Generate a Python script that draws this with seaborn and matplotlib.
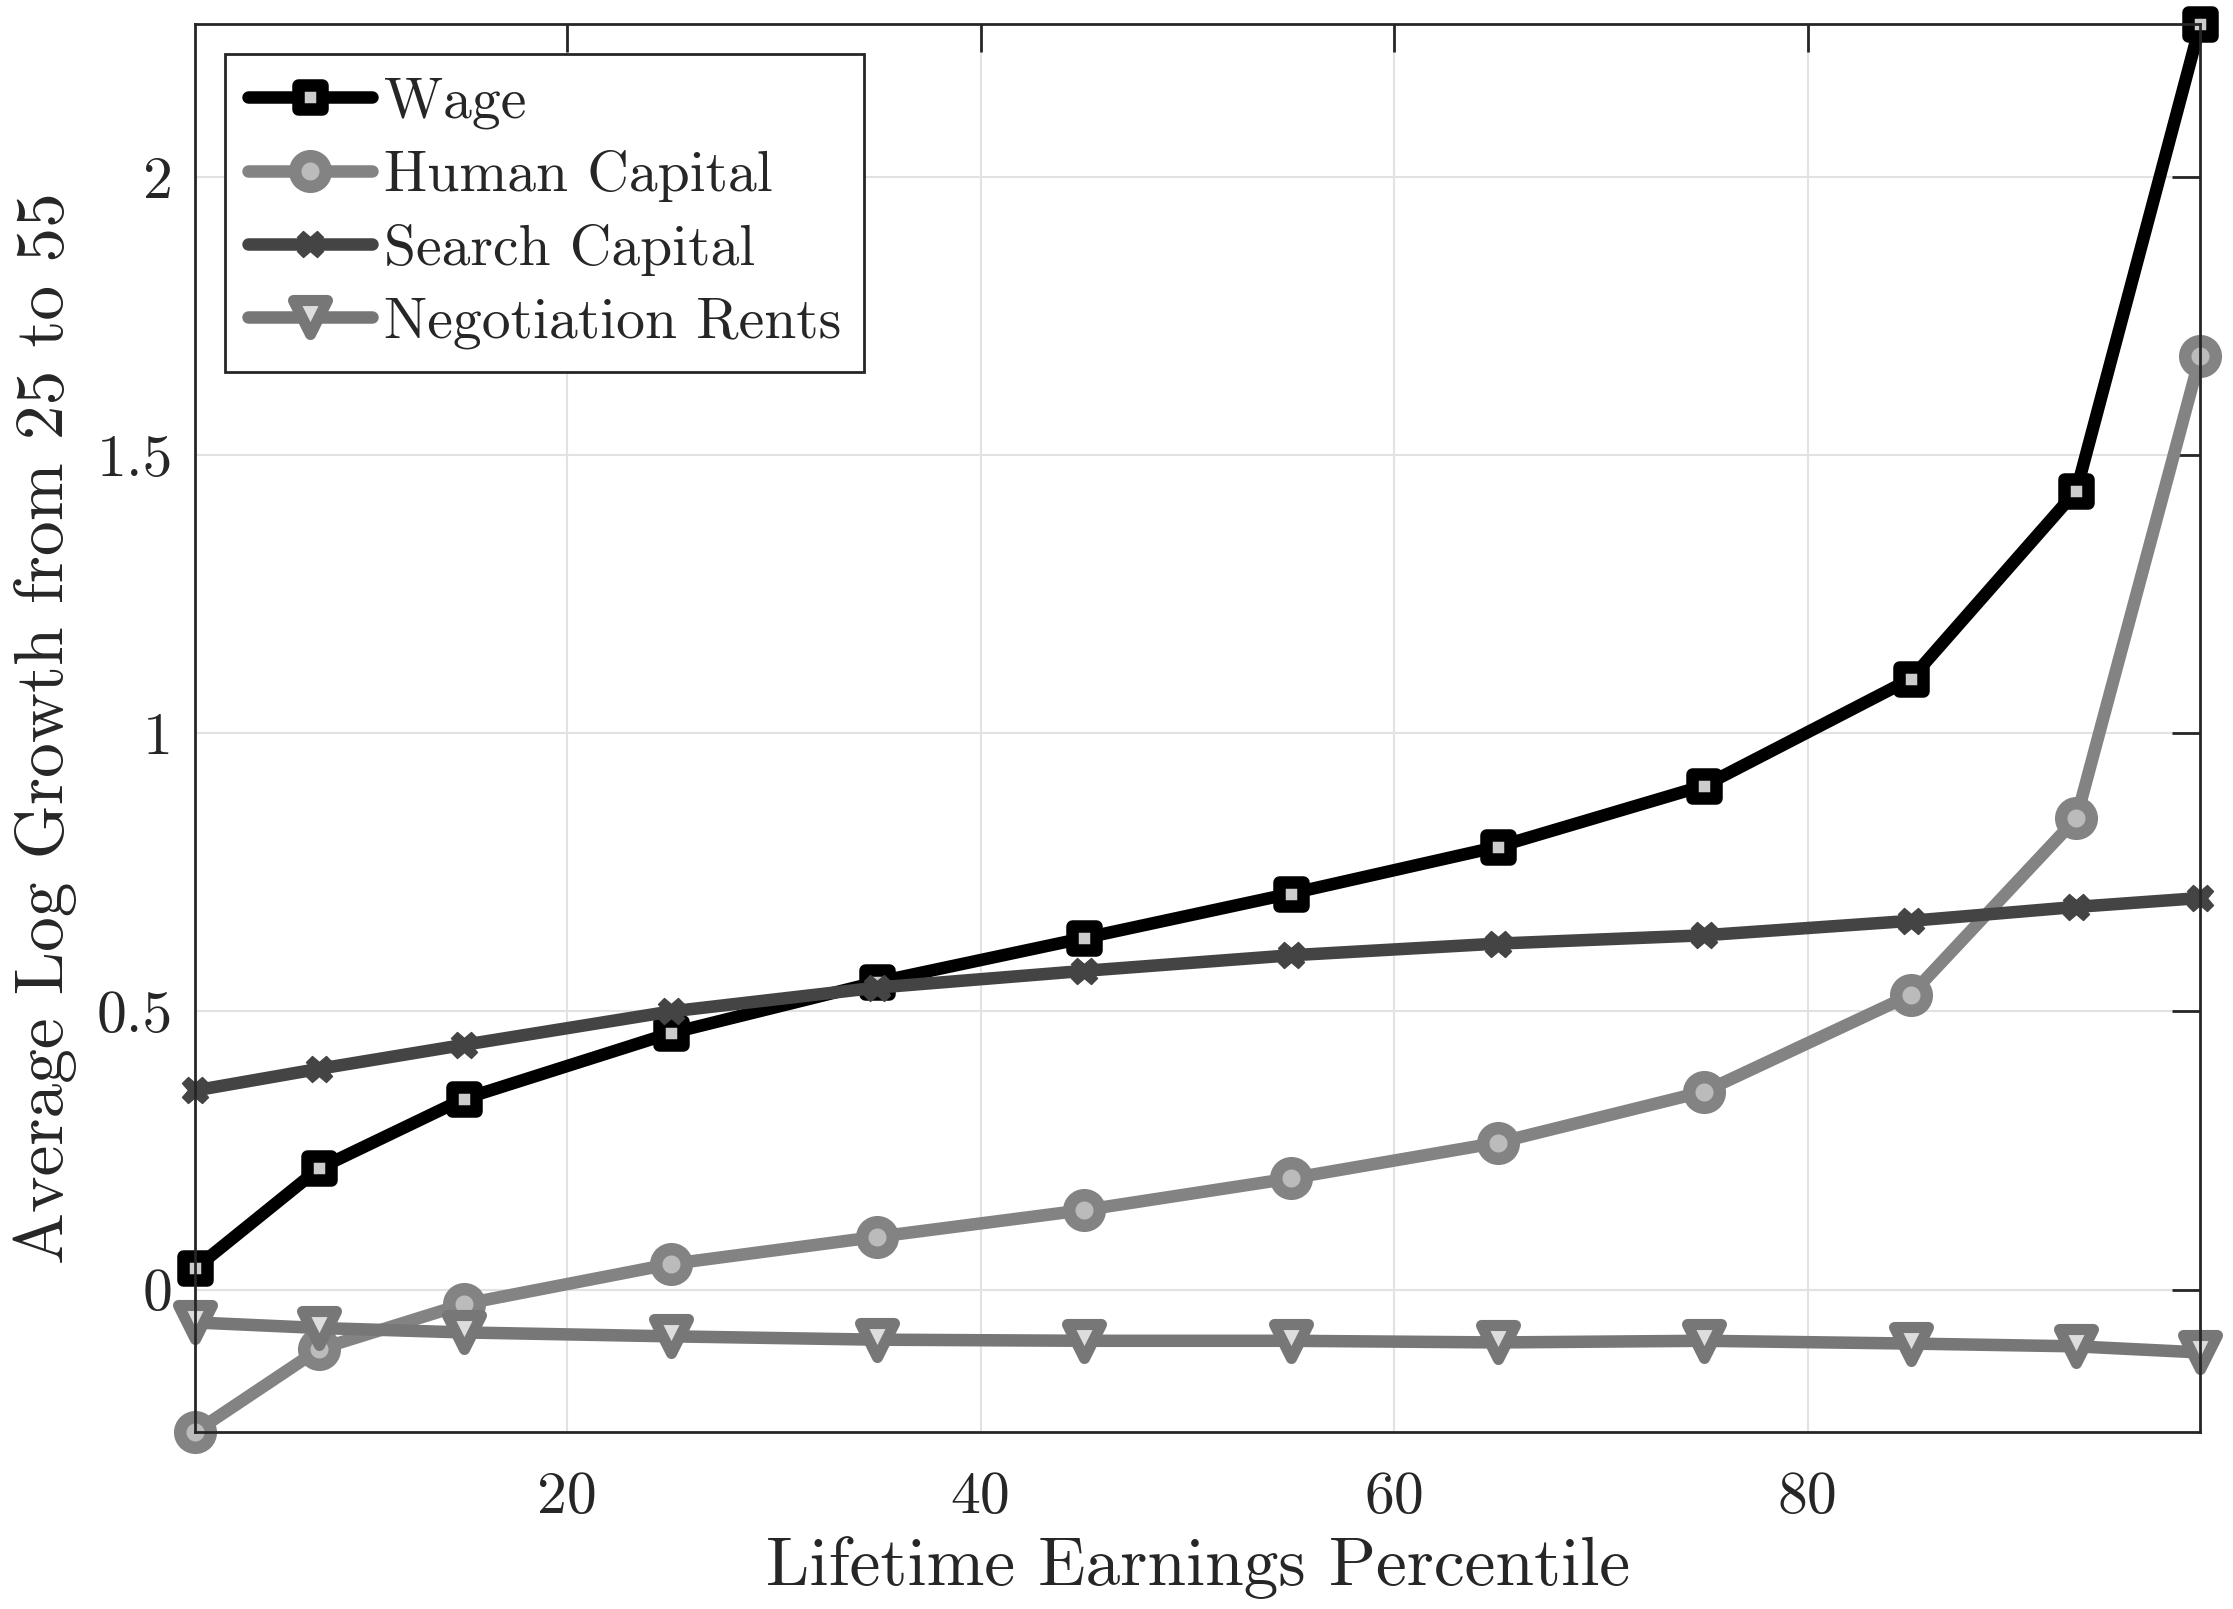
import numpy as np
import pandas as pd
import matplotlib
matplotlib.use("Agg")
import matplotlib.pyplot as plt
from matplotlib.markers import MarkerStyle
import seaborn as sns

# ---- data ----
percentile = [2, 8, 15, 25, 35, 45, 55, 65, 75, 85, 93, 99]
wage = [0.038, 0.218, 0.343, 0.461, 0.553, 0.632, 0.712, 0.796, 0.906, 1.098, 1.436, 2.275]
human_capital = [-0.256, -0.107, -0.026, 0.046, 0.095, 0.143, 0.200, 0.264, 0.356, 0.530, 0.847, 1.679]
search_capital = [0.358, 0.397, 0.440, 0.500, 0.543, 0.573, 0.601, 0.622, 0.637, 0.663, 0.688, 0.704]
negotiation_rents = [-0.059, -0.069, -0.077, -0.084, -0.090, -0.092, -0.092, -0.095, -0.092, -0.097, -0.102, -0.113]
series_names = ["Wage", "Human Capital", "Search Capital", "Negotiation Rents"]
xticks = [20, 40, 60, 80]
yticks = [0, 0.5, 1, 1.5, 2]
ytick_labels = ["0", "0.5", "1", "1.5", "2"]

sns.set_theme(style="white")
plt.rcParams["font.family"] = ["cmr10", "DejaVu Serif"]
plt.rcParams["axes.formatter.use_mathtext"] = True
plt.rcParams["mathtext.fontset"] = "cm"

fig = plt.figure(figsize=(22.33, 16.09), dpi=100)
ax = fig.add_axes([0.0874, 0.110, 0.898, 0.875])

styles = [
    dict(color="black", marker=MarkerStyle("s", joinstyle="round"), markersize=17,
         markerfacecolor="#cccccc", markeredgecolor="black", markeredgewidth=9, linewidth=9),
    dict(color="#838383", marker="o", markersize=22, markerfacecolor="#bbbbbb",
         markeredgecolor="#838383", markeredgewidth=9, linewidth=9),
    dict(color="#444444", marker=MarkerStyle("X", joinstyle="round"), markersize=19,
         markerfacecolor="#444444", markeredgecolor="#444444", markeredgewidth=1, linewidth=9),
    dict(color="#777777", marker=MarkerStyle("v", joinstyle="round"), markersize=24,
         markerfacecolor="#dddddd", markeredgecolor="#777777", markeredgewidth=8, linewidth=9),
]
data = [wage, human_capital, search_capital, negotiation_rents]

for name, vals, st in zip(series_names, data, styles):
    sns.lineplot(x=percentile, y=vals, ax=ax, label=name, clip_on=False, **st)

ax.set_xlim(min(percentile), max(percentile))
ax.set_ylim(min(human_capital), max(wage))
ax.set_xticks(xticks)
ax.set_xticklabels([str(t) for t in xticks])
ax.set_yticks(yticks)
ax.set_yticklabels(ytick_labels)
ax.grid(True, color="#e2e2e2", linewidth=1.5)
ax.set_axisbelow(True)
for s in ax.spines.values():
    s.set_color("#262626")
    s.set_linewidth(2)
ax.tick_params(direction="in", length=20, width=2, colors="#262626",
               labelsize=43, top=True, right=True, pad=16)
ax.tick_params(axis="x", pad=28)

ax.set_xlabel("Lifetime Earnings Percentile", fontsize=50, color="#262626", labelpad=8)
ax.set_ylabel("Average Log Growth from 25 to 55", fontsize=50, color="#262626", labelpad=14)

leg = ax.legend(loc="upper left", fontsize=41.5, frameon=True, fancybox=False,
                handlelength=2.15, handletextpad=0.2, borderpad=0.4,
                labelspacing=0.37, borderaxespad=0.52)
leg.get_frame().set_edgecolor("#262626")
leg.get_frame().set_linewidth(2)
leg.get_frame().set_alpha(1)

fig.savefig("out.png", dpi=100)
